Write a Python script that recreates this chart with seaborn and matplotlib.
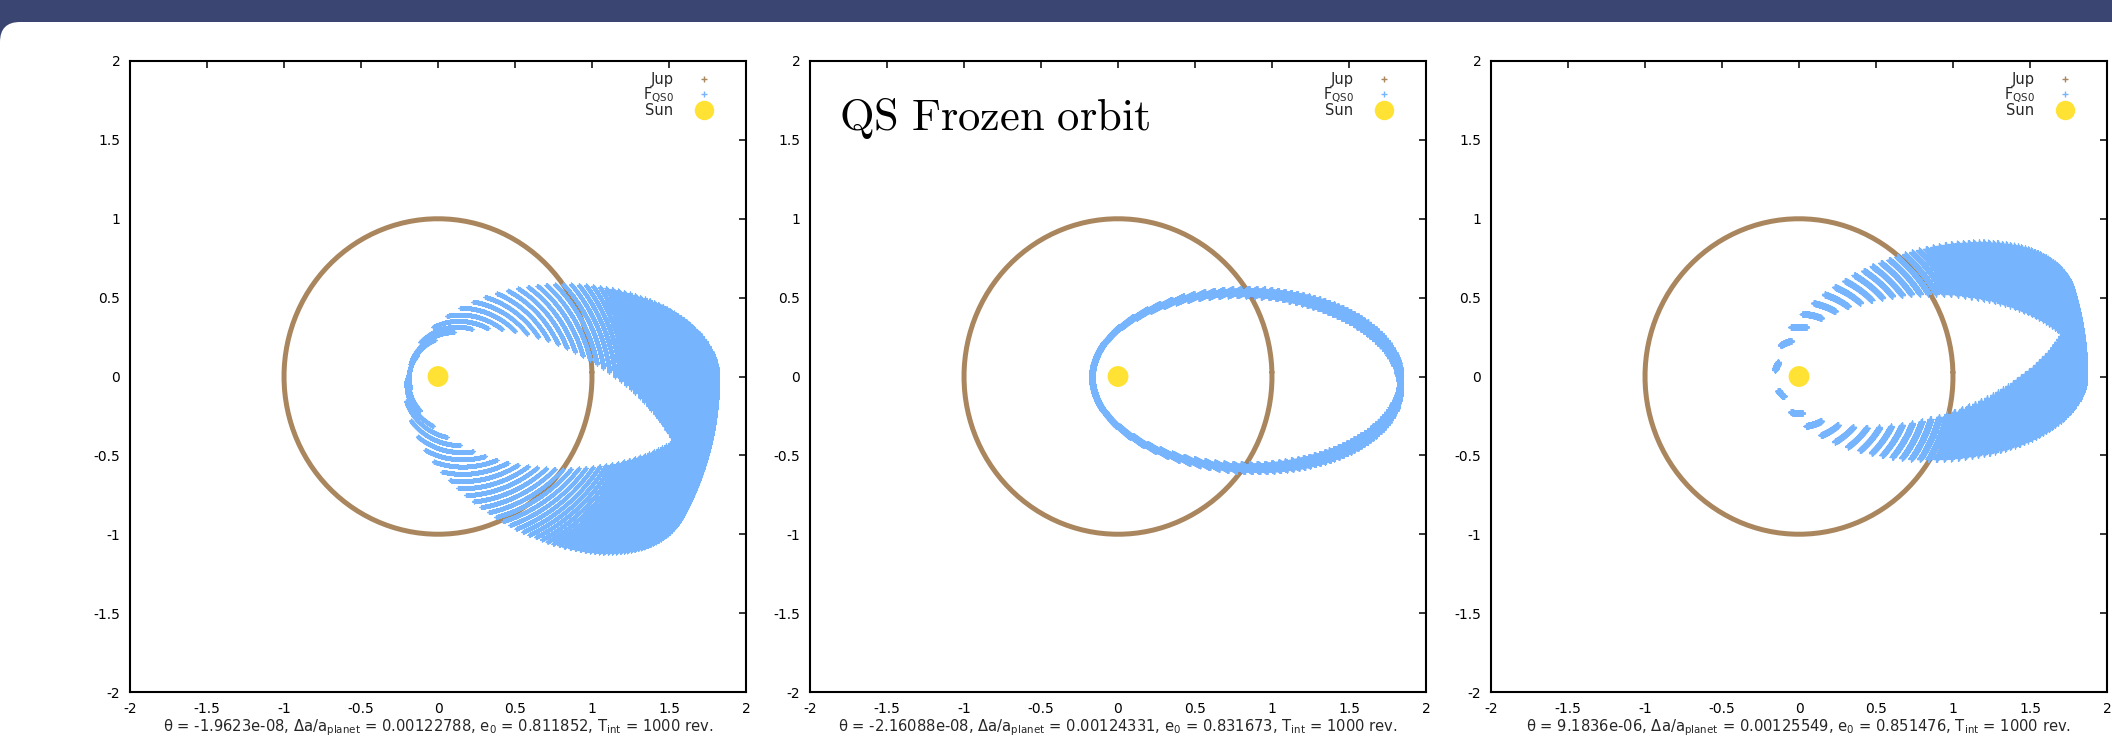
import numpy as np
import pandas as pd
import matplotlib
matplotlib.use("Agg")
import matplotlib.pyplot as plt
import seaborn as sns
from matplotlib.lines import Line2D
from matplotlib.patches import FancyBboxPatch
from matplotlib.transforms import IdentityTransform

# ---------------- data ----------------
panel_theta = ["-1.9623e-08", "-2.16088e-08", "9.1836e-06"]
panel_da = [0.00122788, 0.00124331, 0.00125549]
panel_e0 = [0.811852, 0.831673, 0.851476]
panel_tint = [1000, 1000, 1000]
# direction of aphelion (deg) at start / end of the integration
omega_start = [0.0, 0.0, 0.0]
omega_end = [-30.0, -3.0, 18.0]
# drift of the output phase over the integration, in output steps
phase_drift_steps = [-1.8, 2.0, 0.0]
samples_per_rev = 120
jupiter_radius = 1.0
sun_pos = [0.0, 0.0]

tick_values = [-2, -1.5, -1, -0.5, 0, 0.5, 1, 1.5, 2]
tick_labels = ["-2", "-1.5", "-1", "-0.5", "0", "0.5", "1", "1.5", "2"]
legend_labels = ["Jup", r"F$_{\mathregular{QS0}}$", "Sun"]
annotation_text = r"$\mathrm{QS\ Frozen\ orbit}$"

# ---------------- style ----------------
sns.set_style("white")
plt.rcParams["font.family"] = ["DejaVu Sans"]
plt.rcParams["axes.unicode_minus"] = False
plt.rcParams["mathtext.fontset"] = "dejavusans"

C_JUP = "#a9865e"
C_AST = "#76b5fd"
C_SUN = "#ffe233"
C_BANNER = "#3a4571"
marker_area = [12, 16, 16]

W, H = 2112, 739
fig = plt.figure(figsize=(W / 100, H / 100), dpi=100)
fig.patch.set_facecolor(C_BANNER)
fig.add_artist(FancyBboxPatch((0, -60), W + 60, H - 22 + 60,
                              boxstyle="round,pad=0,rounding_size=20",
                              transform=IdentityTransform(), fc="white",
                              ec="none", zorder=-5))


def kepler_E(M, e):
    E = np.full_like(M, np.pi)
    for _ in range(40):
        E = E - (E - e * np.sin(E) - M) / (1 - e * np.cos(E))
    return E


ax_left_px = [130, 810, 1491]
ax_w_px, ax_top_px, ax_bot_px = 616, 61, 692

for p in range(3):
    ax = fig.add_axes([ax_left_px[p] / W, (H - ax_bot_px) / H,
                       ax_w_px / W, (ax_bot_px - ax_top_px) / H])
    ax.set_facecolor("none")
    e = panel_e0[p]
    a = 1.0 + panel_da[p]
    R = panel_tint[p]
    step = 2 * np.pi / samples_per_rev
    M0 = step * (np.arange(samples_per_rev) + 0.5)
    frac = np.linspace(0.0, 1.0, R)[:, None]
    M = (M0[None, :] + phase_drift_steps[p] * step * frac) % (2 * np.pi)
    E = kepler_E(M, e)
    xp = a * (np.cos(E) - e)
    yp = a * np.sqrt(1 - e ** 2) * np.sin(E)
    om = np.deg2rad(omega_start[p] + (omega_end[p] - omega_start[p]) * frac)
    xs = -(xp * np.cos(om) - yp * np.sin(om))
    ys = -(xp * np.sin(om) + yp * np.cos(om))
    df = pd.DataFrame({"x": xs.ravel(), "y": ys.ravel()})

    # Jupiter positions over one revolution (closed)
    jt = np.append(M0, M0[0])
    jdf = pd.DataFrame({"x": jupiter_radius * np.cos(jt),
                        "y": jupiter_radius * np.sin(jt)})
    sns.lineplot(data=jdf, x="x", y="y", sort=False, color=C_JUP, lw=3.6,
                 ax=ax, zorder=2, estimator=None)
    sns.scatterplot(data=df, x="x", y="y", marker="+", s=marker_area[p],
                    linewidth=0.75, color=C_AST, ax=ax, zorder=3, legend=False)
    sns.scatterplot(x=[sun_pos[0]], y=[sun_pos[1]], s=225, color=C_SUN,
                    edgecolor="none", ax=ax, zorder=4, legend=False)

    ax.set_xlim(-2, 2)
    ax.set_ylim(-2, 2)
    ax.set_xticks(tick_values)
    ax.set_xticklabels(tick_labels)
    ax.set_yticks(tick_values)
    ax.set_yticklabels(tick_labels)
    ax.set_xlabel("")
    ax.set_ylabel("")
    ax.tick_params(direction="in", length=5, width=1.1, top=True, right=True,
                   labelsize=10, pad=7, colors="black")
    for sp in ax.spines.values():
        sp.set_linewidth(1.5)
        sp.set_color("black")
        sp.set_visible(True)

    handles = [
        Line2D([], [], ls="none", marker="+", ms=5, mew=1, color=C_JUP),
        Line2D([], [], ls="none", marker="+", ms=5, mew=1, color=C_AST),
        Line2D([], [], ls="none", marker="o", ms=14, color=C_SUN, mec="none"),
    ]
    ax.legend(handles, legend_labels, loc="upper right",
              bbox_to_anchor=(1 - 31 / ax_w_px, 1 - 11 / 631),
              frameon=False, markerfirst=False, handlelength=1.5,
              handletextpad=1.35, labelspacing=-0.1, borderpad=0,
              borderaxespad=0, fontsize=10.5)

    if p == 1:
        ax.text(-1.81, 1.563, annotation_text, fontsize=32, ha="left",
                va="baseline", math_fontfamily="cm", color="black")

    caption = (r"θ = " + panel_theta[p] + r", Δa/a$_{\mathregular{planet}}$ = "
               + f"{panel_da[p]:g}" + r", e$_{\mathregular{0}}$ = "
               + f"{panel_e0[p]:g}" + r", T$_{\mathregular{int}}$ = "
               + f"{panel_tint[p]} rev.")
    cx = (ax_left_px[p] + ax_w_px / 2) / W
    fig.text(cx, 1.5 / H, caption, ha="center", va="bottom", fontsize=10.6)

fig.savefig("out.png", dpi=100)
